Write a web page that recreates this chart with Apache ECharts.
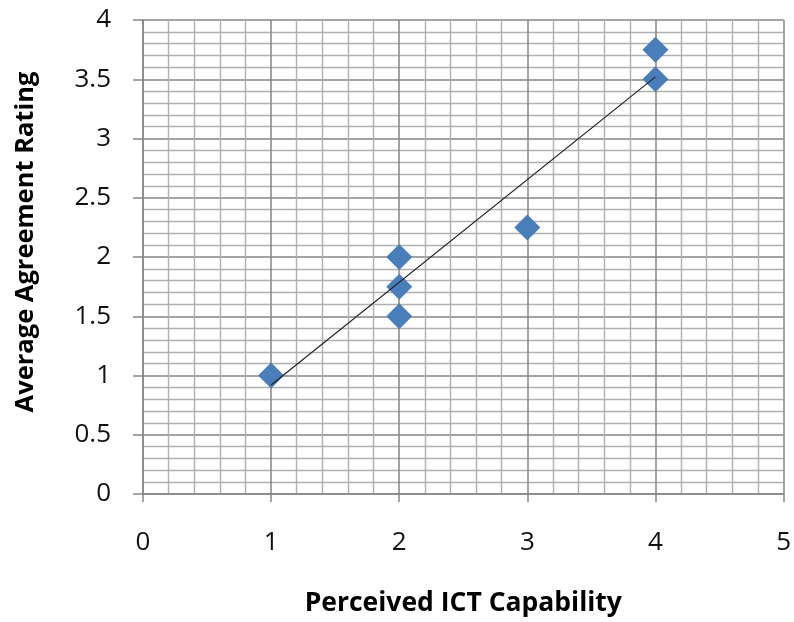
<!DOCTYPE html>
<html>
<head>
<meta charset="utf-8">
<script src="https://cdn.jsdelivr.net/npm/echarts@6/dist/echarts.min.js"></script>
<style>
html,body{margin:0;padding:0;background:#fff;}
#chart{width:794px;height:622px;}
</style>
</head>
<body>
<div id="chart"></div>
<script>
var capability = [1, 2, 2, 2, 3, 4, 4];
var rating = [1, 2, 1.75, 1.5, 2.25, 3.75, 3.5];
var trendX = [1, 4];
var trendY = [0.92, 3.52];
var xTitle = 'Perceived ICT Capability';
var yTitle = 'Average Agreement Rating';

var pts = capability.map(function (x, i) { return [x, rating[i]]; });
var trend = trendX.map(function (x, i) { return [x, trendY[i]]; });

var chart = echarts.init(document.getElementById('chart'), null, {renderer: 'canvas'});
var labelFont = {fontFamily: 'Open Sans', fontSize: 26, color: '#111'};
chart.setOption({
  animation: false,
  backgroundColor: '#fff',
  grid: {left: 143, right: 7, top: 20, bottom: 127},
  xAxis: {
    type: 'value', min: 0, max: 5, interval: 1,
    name: xTitle, nameLocation: 'middle', nameGap: 96,
    nameTextStyle: {fontFamily: 'Open Sans', fontWeight: 'bold', fontSize: 26.5, color: '#000'},
    axisLine: {show: true, lineStyle: {color: '#868686', width: 1.5}},
    axisTick: {show: true, inside: false, length: 8, lineStyle: {color: '#868686', width: 1.5}},
    axisLabel: Object.assign({margin: 36}, labelFont),
    splitLine: {show: true, lineStyle: {color: '#868686', width: 1.5}},
    minorTick: {show: false, splitNumber: 5},
    minorSplitLine: {show: true, lineStyle: {color: '#b0b0b0', width: 1.4}}
  },
  yAxis: {
    type: 'value', min: 0, max: 4, interval: 0.5,
    name: yTitle, nameLocation: 'middle', nameGap: 104, nameRotate: 90,
    nameTextStyle: {fontFamily: 'Open Sans', fontWeight: 'bold', fontSize: 25.5, color: '#000', padding: [0, 0, 0, 30]},
    axisLine: {show: true, lineStyle: {color: '#868686', width: 1.5}},
    axisTick: {show: true, inside: false, length: 10, lineStyle: {color: '#868686', width: 1.5}},
    axisLabel: Object.assign({margin: 32}, labelFont),
    splitLine: {show: true, lineStyle: {color: '#868686', width: 1.5}},
    minorTick: {show: false, splitNumber: 5},
    minorSplitLine: {show: true, lineStyle: {color: '#b0b0b0', width: 1.4}}
  },
  series: [
    {
      type: 'line', data: trend, symbol: 'none', z: 3,
      lineStyle: {color: '#222', width: 1.2}
    },
    {
      type: 'scatter', data: pts, symbol: 'diamond', symbolSize: 26, z: 2,
      itemStyle: {color: '#4A7EBB', opacity: 1}
    }
  ]
});
</script>
</body>
</html>
